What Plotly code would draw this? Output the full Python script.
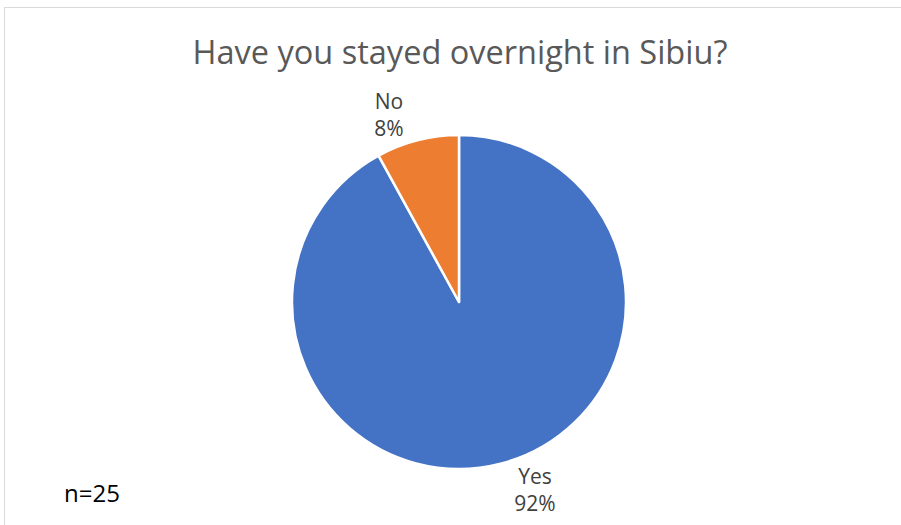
import plotly.graph_objects as go

# Survey answers (n=25)
answers = ["Yes", "No"]
counts = [23, 2]
slice_colors = ["#4472C4", "#ED7D31"]
title_text = "Have you stayed overnight in Sibiu?"
sample_note = "n=25"

W, H = 901, 525
cx, cy, r = 459, 302, 167  # pie centre and radius in pixels
FONT = "Open Sans, Carlito, sans-serif"

fig = go.Figure(
    go.Pie(
        labels=answers,
        values=counts,
        sort=False,
        direction="clockwise",
        rotation=0,
        marker=dict(colors=slice_colors, line=dict(color="white", width=2.5)),
        textposition="outside",
        texttemplate="%{label}<br>%{percent:.0%}",
        textfont=dict(family=FONT, size=21, color="#404040"),
        automargin=False,
        showlegend=False,
        hoverinfo="label+percent",
        domain=dict(
            x=[(cx - r) / W, (cx + r) / W],
            y=[(H - cy - r) / H, (H - cy + r) / H],
        ),
    )
)

fig.update_layout(
    width=W,
    height=H,
    margin=dict(l=0, r=0, t=0, b=0),
    paper_bgcolor="white",
    title=dict(
        text=title_text,
        x=460 / W,
        xanchor="center",
        y=1 - 53 / H,
        yanchor="middle",
        font=dict(family=FONT, size=32.5, color="#595959"),
    ),
    annotations=[
        dict(
            text=sample_note,
            xref="paper",
            yref="paper",
            x=62 / W,
            y=1 - 492 / H,
            xanchor="left",
            yanchor="middle",
            showarrow=False,
            font=dict(family=FONT, size=24, color="#000000"),
        )
    ],
    shapes=[
        dict(
            type="rect",
            xref="paper",
            yref="paper",
            x0=4.5 / W,
            x1=1.05,
            y0=-0.05,
            y1=1 - 7.5 / H,
            line=dict(color="#d9d9d9", width=1),
            layer="below",
        )
    ],
)

fig.write_html("out.html")
